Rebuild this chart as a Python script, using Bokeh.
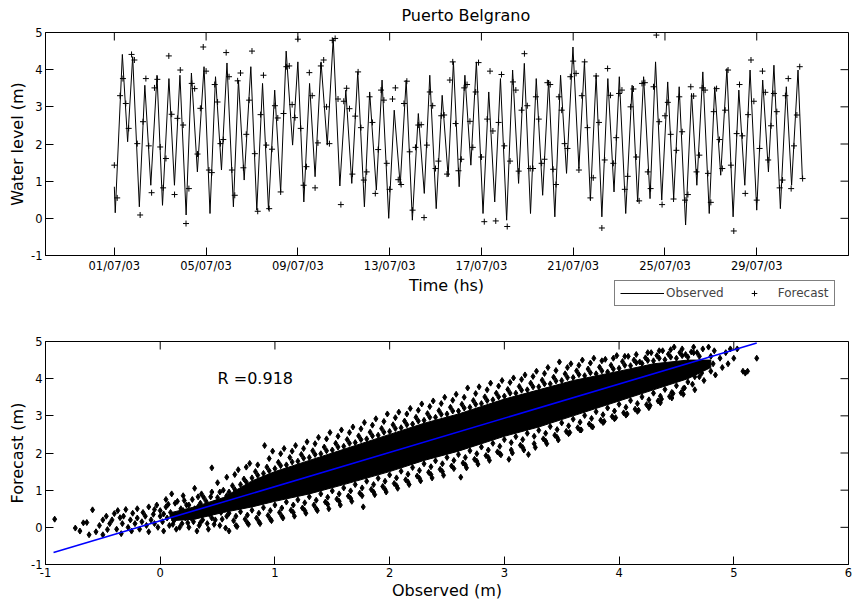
from bokeh.plotting import figure
from bokeh.models import Range1d, FixedTicker, Legend, LegendItem, Label
from bokeh.layouts import column, row
from bokeh.embed import file_html
from bokeh.resources import INLINE

FONT = "DejaVu Sans"

# ---------------- top panel data (time in days since 01/07/03 00:00) ----------------
tick_days = [0, 4, 8, 12, 16, 20, 24, 28]
tick_labels = ["01/07/03", "05/07/03", "09/07/03", "13/07/03",
               "17/07/03", "21/07/03", "25/07/03", "29/07/03"]

# observed water level: turning points of the tide curve (day, metres)
obs_t = [0.00, 0.04, 0.35, 0.58, 0.80, 1.09, 1.33, 1.59, 1.86, 2.10, 2.38, 2.62, 2.86, 3.13,
         3.36, 3.62, 3.91, 4.17, 4.41, 4.67, 4.91, 5.19, 5.41, 5.66, 5.95, 6.21, 6.46, 6.72,
         6.99, 7.25, 7.49, 7.77, 8.00, 8.26, 8.51, 8.75, 9.01, 9.28, 9.54, 9.83, 10.09, 10.35,
         10.61, 10.90, 11.13, 11.42, 11.67, 11.96, 12.20, 12.46, 12.72, 12.99, 13.25, 13.51,
         13.75, 14.03, 14.29, 14.55, 14.78, 15.03, 15.28, 15.54, 15.78, 16.07, 16.32, 16.58,
         16.83, 17.10, 17.36, 17.62, 17.87, 18.14, 18.39, 18.67, 18.93, 19.20, 19.45, 19.71,
         19.99, 20.25, 20.49, 20.75, 21.00, 21.25, 21.51, 21.78, 22.01, 22.29, 22.57, 22.81,
         23.07, 23.35, 23.59, 23.86, 24.12, 24.38, 24.62, 24.90, 25.16, 25.39, 25.65, 25.93,
         26.17, 26.43, 26.70, 26.97, 27.22, 27.48, 27.71, 28.00, 28.26, 28.51, 28.75, 29.03,
         29.29, 29.52, 29.80, 29.99]
obs_v = [0.85, 0.15, 4.41, 2.06, 4.35, 0.31, 3.58, 0.89, 3.85, 0.35, 3.76, 0.89, 3.85, 0.09,
         3.91, 1.25, 4.08, 0.13, 3.81, 1.30, 4.18, 0.31, 3.72, 1.03, 4.08, 0.22, 3.63, 0.22,
         3.45, 0.71, 4.50, 1.97, 4.21, 0.44, 3.63, 1.12, 4.21, 1.97, 4.84, 0.87, 3.45, 0.94,
         3.94, 0.31, 3.40, 0.76, 3.72, 0.00, 2.91, 0.89, 3.72, -0.05, 2.82, 0.67,
         3.85, 0.26, 3.31, 1.12, 4.21, 0.85, 3.85, 1.43, 4.21, 0.13, 3.40, 0.44,
         3.76, -0.05, 3.99, 0.94, 4.17, 0.13, 3.76, 0.62, 3.72, 0.04, 3.85, 1.21,
         4.61, 1.34, 4.21, 0.49, 3.85, 0.04, 3.76, 0.71, 3.81, 0.13, 3.58, 0.44,
         3.81, 0.53, 4.21, 0.49, 3.67, 0.53, 3.54, -0.18, 3.36, 0.89, 3.94, 0.13,
         3.54, 1.16, 4.03, 0.04, 3.45, 0.89, 3.99, 0.22, 3.72, 1.25, 4.12, 0.26,
         3.54, 0.89, 3.99, 1.07]

# forecast, one value every 3 hours from 01/07/03 00:00
fc_v = [1.43, 0.55, 3.30, 3.76, 3.09, 2.42, 4.41, 4.26,
        2.01, 0.09, 2.60, 3.76, 1.95, 0.69, 3.51, 3.74,
        1.92, 0.82, 1.61, 4.37, 2.80, 0.64, 2.69, 3.99,
        2.51, -0.14, 0.80, 3.63, 3.49, 1.73, 2.96, 4.61,
        3.96, 1.30, 1.23, 3.60, 3.13, 2.01, 2.12, 4.46,
        3.81, 1.30, 0.62, 3.70, 3.91, 1.36, 2.26, 3.18,
        4.50, 1.74, 0.19, 2.79, 3.85, 1.97, 0.26, 1.86,
        3.03, 2.70, 0.71, 2.82, 4.08, 4.10, 3.06, 2.71,
        4.82, 2.42, 0.89, 1.39, 3.92, 3.30, 0.82, 2.03,
        4.10, 4.26, 3.00, 2.01, 4.79, 4.84, 3.21, 0.37,
        3.15, 3.50, 2.95, 1.19, 2.75, 3.94, 2.44, 1.03,
        1.25, 3.27, 2.58, 0.67, 1.85, 3.45, 3.18, 1.48,
        0.78, 3.21, 3.51, 1.04, 0.91, 3.09, 3.69, 1.79,
        0.22, 1.91, 2.51, 2.52, 0.02, 1.97, 3.40, 3.03,
        1.34, 1.54, 2.76, 2.78, 1.19, 3.72, 4.21, 2.55,
        1.28, 1.59, 3.51, 3.60, 2.61, 1.91, 3.40, 4.19,
        1.65, -0.09, 2.67, 3.96, 2.35, -0.07, 2.58, 3.87,
        1.95, -0.22, 1.54, 3.67, 3.45, 1.27, 2.91, 4.43,
        3.03, 1.34, 1.34, 3.27, 2.67, 1.48, 1.59, 3.65,
        3.60, 1.32, 0.91, 3.27, 2.91, 2.01, 1.88, 3.81,
        4.23, 3.90, 1.30, 3.30, 4.21, 2.44, 0.55, 1.09,
        3.83, 2.58, -0.26, 1.57, 4.03, 3.31, 1.48, 2.17,
        3.36, 3.45, 0.78, 1.13, 3.00, 3.48, 1.65, 0.47,
        3.63, 3.65, 1.25, 0.80, 3.54, 4.93, 2.60, 0.37,
        2.76, 3.12, 2.26, 0.52, 1.83, 3.27, 2.33, 0.49,
        0.64, 3.54, 3.29, 1.25, 1.70, 3.51, 3.45, 1.21,
        0.43, 2.87, 3.49, 2.12, 1.34, 2.91, 3.99, 1.43,
        -0.34, 2.28, 3.60, 2.22, 0.67, 2.79, 4.26, 3.15,
        0.49, 1.88, 3.96, 3.39, 1.57, 2.49, 3.36, 2.87,
        0.82, 1.03, 3.30, 3.76, 0.80, 1.95, 2.78, 4.08,
        1.07]
fc_t = [i * 3 / 24 for i in range(len(fc_v))]

# ---------------- bottom panel data ----------------
# dense core of the observed/forecast cloud (observed, lower and upper forecast)
core_obs = [0.10, 0.30, 0.55, 0.8, 1.0, 1.3, 1.6, 2.0, 2.3, 2.6, 3.0, 3.3, 3.6, 4.0, 4.3, 4.6, 4.8]
core_lo = [0.18, 0.22, 0.40, 0.55, 0.7, 0.9, 1.15, 1.5, 1.8, 2.05, 2.45, 2.7, 3.0, 3.4, 3.7, 4.0, 4.3]
core_hi = [0.40, 0.55, 0.80, 1.25, 1.5, 1.8, 2.1, 2.5, 2.8, 3.05, 3.45, 3.7, 3.95, 4.2, 4.4, 4.5, 4.5]

# individual (observed, forecast) points outside the dense core
cloud_pairs = [
    (-0.92, 0.22), (-0.74, -0.02), (-0.70, -0.10), (-0.67, 0.12), (-0.64, 0.13), (-0.62, -0.20),
    (-0.59, 0.47), (-0.56, -0.12), (-0.53, 0.05), (-0.50, -0.20), (-0.50, 0.20), (-0.47, 0.30),
    (-0.46, -0.06), (-0.44, 0.10), (-0.42, 0.20), (-0.40, 0.37), (-0.38, -0.05), (-0.37, 0.45),
    (-0.35, 0.26), (-0.34, -0.17), (-0.33, 0.10), (-0.32, 0.30), (-0.30, 0.48), (-0.28, 0.00),
    (-0.26, 0.20), (-0.25, -0.10), (-0.24, 0.38), (-0.22, 0.10), (-0.20, 0.50), (-0.20, 0.25),
    (-0.18, -0.05), (-0.16, 0.15), (-0.15, 0.40), (-0.13, 0.30), (-0.12, 0.05), (-0.10, 0.55),
    (-0.10, -0.12), (-0.08, 0.20), (-0.06, 0.35), (-0.05, 0.10), (-0.03, 0.60), (-0.02, 0.00),
    (0.00, 0.30), (0.00, 0.45), (0.02, 0.15), (0.03, -0.10), (0.05, 0.55), (0.06, 0.25),
    (0.08, 0.05), (0.09, 0.40), (0.10, 0.90), (0.12, 0.18), (0.13, 0.65), (0.14, -0.05),
    (0.16, 0.35), (0.18, 0.50), (0.19, 0.10), (0.20, 0.85), (0.22, 0.25), (0.23, 0.60),
    (0.25, 0.00), (0.26, 0.42), (0.28, 0.75), (0.29, 0.15), (0.30, 1.05), (0.31, 0.30),
    (0.33, 0.55), (0.34, 0.05), (0.36, 0.90), (0.37, 0.20), (0.39, 0.45), (0.40, 0.70),
    (0.41, 0.10), (0.43, 0.35), (0.45, 1.60), (0.45, 0.95), (0.46, 0.55), (0.48, 0.20),
    (0.50, 0.80), (0.50, 1.20), (0.52, 0.05), (0.53, 0.40), (0.55, 1.00), (0.56, 0.60),
    (0.05, 0.75), (0.15, 0.70), (0.25, 0.60), (0.35, 0.65), (0.10, 0.30), (0.20, 0.45),
    (0.30, 0.50), (0.40, 0.50), (0.45, 0.25), (0.27, 0.25), (0.38, 0.80), (0.17, 0.00),
    (0.32, -0.10), (0.42, -0.05), (0.48, 0.65), (0.58, 0.85), (0.58, 0.30), (0.60, -0.10),
    (-0.05, 0.48), (0.07, 0.62), (0.11, 0.08), (0.21, 0.72), (0.24, 0.12), (0.33, 0.82),
    (0.35, 0.12), (0.44, 0.82), (0.47, 0.08), (0.52, 0.95), (0.54, 0.22), (0.03, 0.36),
    (0.60, 0.95), (0.63, 1.12), (0.58, 1.35), (0.65, 1.02), (0.60, 0.38), (0.64, 0.18), (0.57, -0.02), (0.66, 0.30),
    (0.70, 1.15), (0.73, 1.30), (0.68, 1.55), (0.75, 1.22), (0.70, 0.42), (0.74, 0.22), (0.67, 0.02), (0.76, 0.33),
    (0.80, 1.33), (0.83, 1.50), (0.78, 1.72), (0.85, 1.40), (0.80, 0.46), (0.84, 0.25), (0.77, 0.08), (0.86, 0.38),
    (0.90, 1.45), (0.93, 1.62), (0.91, 2.20), (0.95, 1.52), (0.90, 0.53), (0.94, 0.32), (0.87, 0.10), (0.96, 0.45),
    (1.00, 1.58), (1.03, 1.75), (0.98, 2.05), (1.05, 1.66), (1.00, 0.60), (1.04, 0.40), (0.97, 0.18), (1.06, 0.52),
    (1.10, 1.68), (1.13, 1.88), (1.08, 2.12), (1.15, 1.76), (1.10, 0.68), (1.14, 0.46), (1.07, 0.25), (1.16, 0.60),
    (1.20, 1.78), (1.23, 1.96), (1.18, 2.20), (1.25, 1.86), (1.20, 0.74), (1.24, 0.52), (1.17, 0.30), (1.26, 0.66),
    (1.30, 1.88), (1.33, 2.06), (1.28, 2.30), (1.35, 1.96), (1.30, 0.82), (1.34, 0.60), (1.27, 0.38), (1.36, 0.73),
    (1.40, 1.98), (1.43, 2.16), (1.38, 2.42), (1.45, 2.06), (1.40, 0.90), (1.44, 0.68), (1.37, 0.45), (1.46, 0.81),
    (1.50, 2.08), (1.53, 2.26), (1.48, 2.55), (1.55, 2.16), (1.50, 0.98), (1.54, 0.76), (1.47, 0.50), (1.56, 0.90),
    (1.60, 2.18), (1.63, 2.36), (1.58, 2.62), (1.65, 2.26), (1.60, 1.06), (1.64, 0.84), (1.57, 0.60), (1.66, 0.98),
    (1.70, 2.28), (1.73, 2.46), (1.68, 2.70), (1.75, 2.36), (1.70, 1.15), (1.74, 0.92), (1.67, 0.70), (1.76, 1.06),
    (1.80, 2.38), (1.83, 2.56), (1.78, 2.82), (1.85, 2.46), (1.80, 1.24), (1.84, 1.02), (1.77, 0.55), (1.86, 1.15),
    (1.90, 2.48), (1.93, 2.66), (1.88, 2.92), (1.95, 2.56), (1.90, 1.32), (1.94, 1.10), (1.87, 0.88), (1.96, 1.24),
    (2.00, 2.58), (2.03, 2.76), (1.98, 3.05), (2.05, 2.66), (2.00, 1.41), (2.04, 1.18), (1.97, 0.95), (2.06, 1.33),
    (2.10, 2.68), (2.13, 2.86), (2.08, 3.10), (2.15, 2.76), (2.10, 1.51), (2.14, 1.28), (2.07, 1.05), (2.16, 1.43),
    (2.20, 2.78), (2.23, 2.96), (2.18, 3.20), (2.25, 2.86), (2.20, 1.61), (2.24, 1.38), (2.17, 1.15), (2.26, 1.53),
    (2.30, 2.88), (2.33, 3.06), (2.28, 3.32), (2.35, 2.96), (2.30, 1.71), (2.34, 1.48), (2.27, 1.25), (2.36, 1.63),
    (2.40, 2.96), (2.43, 3.14), (2.38, 3.40), (2.45, 3.04), (2.40, 1.79), (2.44, 1.56), (2.37, 1.33), (2.46, 1.71),
    (2.50, 3.05), (2.53, 3.23), (2.48, 3.50), (2.55, 3.13), (2.50, 1.88), (2.54, 1.65), (2.47, 1.40), (2.56, 1.80),
    (2.60, 3.13), (2.63, 3.31), (2.58, 3.58), (2.65, 3.21), (2.60, 1.96), (2.64, 1.73), (2.62, 1.35), (2.66, 1.88),
    (2.70, 3.23), (2.73, 3.41), (2.68, 3.75), (2.75, 3.31), (2.70, 2.06), (2.74, 1.83), (2.67, 1.60), (2.76, 1.98),
    (2.80, 3.33), (2.83, 3.51), (2.78, 3.78), (2.85, 3.41), (2.80, 2.16), (2.84, 1.93), (2.77, 1.70), (2.86, 2.08),
    (2.90, 3.43), (2.93, 3.61), (2.88, 3.88), (2.95, 3.51), (2.90, 2.26), (2.94, 2.03), (2.87, 1.80), (2.96, 2.18),
    (3.00, 3.53), (3.03, 3.71), (2.98, 3.95), (3.05, 3.61), (3.00, 2.36), (3.04, 1.83), (2.97, 1.95), (3.06, 2.28),
    (3.10, 3.61), (3.13, 3.79), (3.08, 4.02), (3.15, 3.69), (3.10, 2.44), (3.14, 2.21), (3.07, 2.00), (3.16, 2.36),
    (3.20, 3.70), (3.23, 3.88), (3.18, 4.10), (3.25, 3.78), (3.20, 2.53), (3.21, 1.96), (3.17, 2.08), (3.26, 2.45),
    (3.30, 3.78), (3.33, 3.96), (3.28, 4.20), (3.35, 3.86), (3.30, 2.61), (3.34, 2.38), (3.27, 2.15), (3.36, 2.53),
    (3.40, 3.86), (3.43, 4.04), (3.38, 4.30), (3.45, 3.94), (3.40, 2.71), (3.44, 2.48), (3.37, 2.25), (3.46, 2.63),
    (3.50, 3.95), (3.53, 4.13), (3.48, 4.45), (3.55, 4.03), (3.50, 2.81), (3.54, 2.58), (3.47, 2.35), (3.56, 2.73),
    (3.60, 4.03), (3.63, 4.21), (3.58, 4.40), (3.65, 4.11), (3.60, 2.91), (3.64, 2.68), (3.57, 2.55), (3.66, 2.83),
    (3.70, 4.08), (3.73, 4.26), (3.68, 4.50), (3.75, 4.16), (3.70, 3.01), (3.74, 2.78), (3.67, 2.62), (3.76, 2.93),
    (3.80, 4.13), (3.83, 4.31), (3.78, 4.55), (3.85, 4.21), (3.80, 3.11), (3.84, 2.88), (3.77, 2.70), (3.86, 3.03),
    (3.90, 4.18), (3.93, 4.36), (3.88, 4.52), (3.95, 4.26), (3.90, 3.21), (3.94, 2.98), (3.87, 2.85), (3.96, 3.13),
    (4.00, 4.28), (4.03, 4.46), (3.98, 4.62), (4.05, 4.36), (4.00, 3.31), (4.04, 3.08), (3.97, 2.95), (4.06, 3.23),
    (4.10, 4.35), (4.13, 4.50), (4.08, 4.60), (4.15, 4.43), (4.10, 3.41), (4.14, 3.18), (4.07, 3.05), (4.16, 3.33),
    (4.20, 4.41), (4.23, 4.56), (4.18, 4.45), (4.25, 4.49), (4.20, 3.51), (4.24, 3.30), (4.17, 3.15), (4.26, 3.43),
    (4.30, 4.48), (4.33, 4.62), (4.28, 4.70), (4.35, 4.55), (4.30, 3.61), (4.34, 3.40), (4.27, 3.28), (4.36, 3.53),
    (4.40, 4.51), (4.43, 4.66), (4.38, 4.75), (4.45, 4.58), (4.40, 3.71), (4.44, 3.52), (4.37, 3.45), (4.46, 3.63),
    (4.50, 4.55), (4.53, 4.70), (4.48, 4.85), (4.55, 4.62), (4.50, 3.81), (4.54, 3.62), (4.47, 3.60), (4.56, 3.73),
    (4.60, 4.58), (4.63, 4.72), (4.58, 4.65), (4.65, 4.85), (4.60, 3.91), (4.64, 3.85), (4.57, 3.75), (4.66, 4.05),
    (4.70, 4.60), (4.73, 4.80), (4.68, 4.70), (4.70, 4.05), (4.74, 3.95), (4.72, 4.15),
    (4.80, 4.60), (4.83, 4.75), (4.78, 4.85), (4.80, 4.20), (4.84, 4.10), (4.82, 4.40),
    (4.88, 4.55), (4.90, 4.30), (4.93, 4.70), (4.95, 4.40), (4.97, 4.80), (5.00, 4.55),
    (5.03, 4.80), (5.08, 4.20), (5.10, 4.15), (5.12, 4.20), (5.20, 4.55),
    # outer scattered points between the columns above
    (0.65, 1.42), (0.66, 0.05), (0.75, 1.62), (0.76, 0.12), (0.85, 1.68), (0.86, 0.15),
    (0.95, 1.85), (0.96, 0.22), (1.05, 1.98), (1.06, 0.30), (1.15, 2.05), (1.16, 0.40),
    (1.25, 2.12), (1.26, 0.45), (1.35, 2.25), (1.36, 0.50), (1.45, 2.38), (1.46, 0.62),
    (1.55, 2.45), (1.56, 0.70), (1.65, 2.55), (1.66, 0.78), (1.75, 2.65), (1.76, 0.85),
    (1.85, 2.75), (1.86, 0.95), (1.95, 2.85), (1.96, 1.02), (2.05, 2.95), (2.06, 1.12),
    (2.15, 3.05), (2.16, 1.22), (2.25, 3.15), (2.26, 1.32), (2.35, 3.25), (2.36, 1.42),
    (2.45, 3.33), (2.46, 1.50), (2.55, 3.42), (2.56, 1.58), (2.65, 3.50), (2.66, 1.68),
    (2.75, 3.60), (2.76, 1.78), (2.85, 3.70), (2.86, 1.88), (2.95, 3.80), (2.96, 1.98),
    (3.05, 3.90), (3.06, 2.08), (3.15, 3.98), (3.16, 2.15), (3.25, 4.06), (3.26, 2.25),
    (3.35, 4.14), (3.36, 2.32), (3.45, 4.22), (3.46, 2.42), (3.55, 4.30), (3.56, 2.52),
    (3.65, 4.36), (3.66, 2.62), (3.75, 4.42), (3.76, 2.72), (3.85, 4.48), (3.86, 2.82),
    (3.95, 4.55), (3.96, 2.92), (4.05, 4.60), (4.06, 3.02), (4.15, 4.65), (4.16, 3.12),
    (4.25, 4.70), (4.26, 3.22), (4.35, 4.75), (4.36, 3.35), (4.45, 4.78), (4.46, 3.48),
    (4.55, 4.80), (4.56, 3.58), (4.65, 4.70), (4.66, 3.70),
]
cloud_obs = [p[0] for p in cloud_pairs]
cloud_fc = [p[1] for p in cloud_pairs]

# least-squares line
fit_slope = 0.92
fit_intercept = 0.176
fit_obs = [-0.93, 5.2]
fit_fc = [fit_intercept + fit_slope * x for x in fit_obs]
r_text = "R =0.918"

y_ticks = [-1, 0, 1, 2, 3, 4, 5]
y_labels = ["-1", "0", "1", "2", "3", "4", "5"]
x2_ticks = [-1, 0, 1, 2, 3, 4, 5, 6]
x2_labels = ["-1", "0", "1", "2", "3", "4", "5", "6"]

FRAME_W, FRAME_H, TICK = 803, 223, 8
PAGE_W = 853


def style(p, xticks, xlabels, yticks, ylabels, xr, yr):
    p.grid.visible = False
    p.outline_line_color = "black"
    p.outline_line_width = 1
    p.background_fill_color = "white"
    p.border_fill_color = "white"
    p.xaxis.ticker = FixedTicker(ticks=xticks)
    p.yaxis.ticker = FixedTicker(ticks=yticks)
    p.xaxis.major_label_overrides = dict(zip(xticks, xlabels))
    p.yaxis.major_label_overrides = dict(zip(yticks, ylabels))
    for ax in p.axis:
        ax.axis_line_color = "black"
        ax.major_tick_line_color = "black"
        ax.major_tick_in = TICK
        ax.major_tick_out = 0
        ax.minor_tick_in = 0
        ax.minor_tick_out = 0
        ax.major_label_text_font = FONT
        ax.major_label_text_font_size = "11.5px"
        ax.major_label_text_color = "black"
        ax.major_label_standoff = 3
        ax.axis_label_text_font = FONT
        ax.axis_label_text_font_size = "16px"
        ax.axis_label_text_font_style = "normal"
        ax.axis_label_text_color = "black"
        ax.axis_label_standoff = 1
    # inward ticks on the top and right edges of the box
    dy = TICK * (yr[1] - yr[0]) / FRAME_H
    dx = TICK * (xr[1] - xr[0]) / FRAME_W
    p.segment(x0=xticks, y0=[yr[1]] * len(xticks), x1=xticks, y1=[yr[1] - dy] * len(xticks),
              line_color="black", line_width=1)
    p.segment(x0=[xr[1]] * len(yticks), y0=yticks, x1=[xr[1] - dx] * len(yticks), y1=yticks,
              line_color="black", line_width=1)


def blank(width, height):
    f = figure(width=width, height=height, x_range=Range1d(0, width), y_range=Range1d(0, height),
               output_backend="svg", toolbar_location=None, min_border=0,
               x_axis_location=None, y_axis_location=None)
    f.grid.visible = False
    f.outline_line_color = None
    f.background_fill_color = "white"
    f.border_fill_color = "white"
    return f


# ---------------- title strip ----------------
title_h = 24
title_box = blank(PAGE_W, title_h)
title_box.add_layout(Label(x=446, y=title_h - 15, text="Puerto Belgrano", text_align="center",
                           text_baseline="middle", text_font=FONT, text_font_size="16px",
                           text_color="black"))

# ---------------- top figure ----------------
xr1, yr1 = (-3, 32), (-1, 5)
p1 = figure(frame_width=FRAME_W, frame_height=FRAME_H, x_range=Range1d(*xr1), y_range=Range1d(*yr1),
            output_backend="svg", toolbar_location=None,
            min_border_left=45, min_border_right=4, min_border_top=8, min_border_bottom=20)
p1.yaxis.axis_label = "Water level (m)"

p1.line(obs_t, obs_v, line_color="black", line_width=1)
p1.scatter(fc_t, fc_v, marker="cross", size=6, line_color="black", line_width=1)
style(p1, tick_days, tick_labels, y_ticks, y_labels, xr1, yr1)

# ---------------- strip with the x-axis title and the legend ----------------
strip_h = 37
label_box = blank(614, strip_h)
label_box.add_layout(Label(x=446, y=strip_h - 10, text="Time (hs)", text_align="center",
                           text_baseline="middle", text_font=FONT, text_font_size="16px",
                           text_color="black"))

legend_box = blank(PAGE_W - 614, strip_h)
# off-canvas sample glyphs that only feed the legend
l_obs = legend_box.line(x=[-100, -90], y=[-100, -100], line_color="black", line_width=1)
l_fc = legend_box.scatter(x=[-100], y=[-100], marker="cross", size=6, line_color="black", line_width=1)
legend = Legend(items=[LegendItem(label="Observed", renderers=[l_obs]),
                       LegendItem(label="Forecast", renderers=[l_fc])],
                orientation="horizontal", location=(0, 6),
                border_line_color="black", border_line_width=1,
                glyph_width=44, glyph_height=14, label_height=14, label_standoff=2,
                spacing=8, padding=5, margin=0,
                label_text_font=FONT, label_text_font_size="12px",
                background_fill_color="white", background_fill_alpha=1)
legend_box.add_layout(legend)

# ---------------- bottom figure ----------------
xr2, yr2 = (-1, 6), (-1, 5)
p2 = figure(frame_width=FRAME_W, frame_height=FRAME_H, x_range=Range1d(*xr2), y_range=Range1d(*yr2),
            output_backend="svg", toolbar_location=None,
            min_border_left=45, min_border_right=4, min_border_top=29, min_border_bottom=38)
p2.xaxis.axis_label = "Observed (m)"
p2.yaxis.axis_label = "Forecast (m)"

p2.patch(core_obs + core_obs[::-1], core_hi + core_lo[::-1], fill_color="black", line_color="black")
p2.scatter(cloud_obs, cloud_fc, marker="diamond", size=6, fill_color="black", line_color="black")
p2.line(fit_obs, fit_fc, line_color="#0000ff", line_width=1.6)
p2.add_layout(Label(x=0.5, y=4.0, text=r_text, text_font=FONT, text_font_size="16px",
                    text_baseline="middle", text_color="black"))
style(p2, x2_ticks, x2_labels, y_ticks, y_labels, xr2, yr2)

layout = column(title_box, p1, row(label_box, legend_box, spacing=0), p2, spacing=0)
open("out.html", "w").write(file_html(layout, INLINE))
